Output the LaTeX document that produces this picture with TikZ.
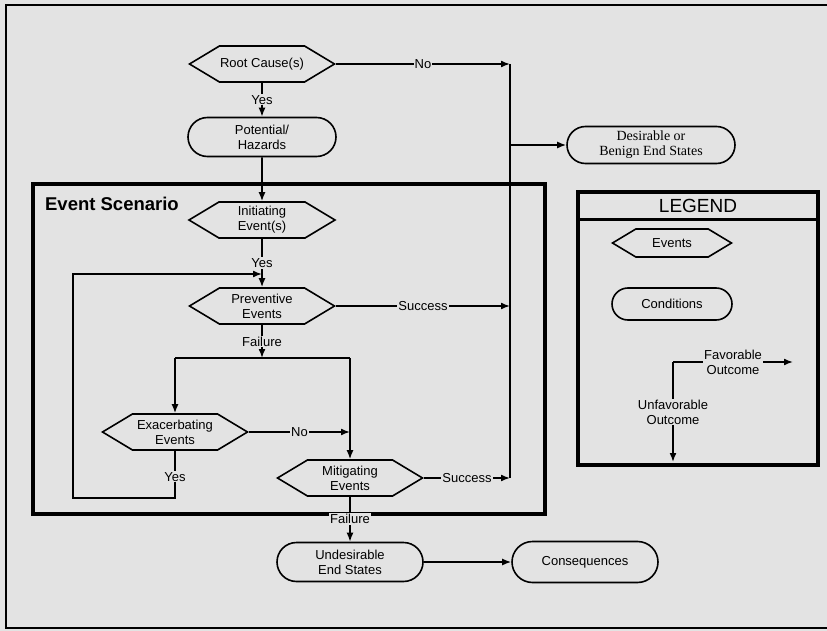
\documentclass[tikz,border=0pt]{standalone}
\usepackage{fontspec}
\setmainfont{Liberation Sans}
\newfontfamily\serifnode{Liberation Serif}
\usepackage{tikz}
\usetikzlibrary{arrows.meta}
\usetikzlibrary{positioning}
\usetikzlibrary{shapes.symbols}
\usetikzlibrary{shapes.misc}
\tikzset{>={Latex[length=9pt,width=7pt]}}
\definecolor{paper}{gray}{0.89}

\begin{document}
\begin{tikzpicture}[
		x=1pt, y=-1pt,
		font=\fontsize{13}{15}\selectfont,
		line width=1.6pt,
		event/.style = {
			signal, signal to=west and east,
			signal pointer angle=62,
			draw, align=center, inner sep=0pt,
			minimum width=145pt, minimum height=36pt
		},
		cond/.style = {
			rounded rectangle, draw,
			align=center, inner sep=0pt,
			minimum width=146pt, minimum height=39pt
		},
		lbl/.style = {
			fill=paper, inner sep=1pt
		}
	]
	\useasboundingbox[fill=paper] (0,0) rectangle (827,631);
	\draw[line width=2.5pt] (6,5) rectangle (840,628);

	% frames
	\draw[line width=3.5pt] (33,184) rectangle (545,514);
	\node[anchor=west, font=\bfseries\fontsize{18.5}{20}\selectfont] (title) at (41,204) {Event Scenario};
	\draw[line width=3.5pt] (578,192) rectangle (818,465);
	\draw[line width=3pt] (578,220) -- (818,220);
	\node[font=\fontsize{19}{21}\selectfont] (legtitle) at (698,206) {LEGEND};

	% main chain
	\node[event] (root) at (262,64) {Root Cause(s)};
	\node[cond, minimum width=148pt] (pot) at (262,137) {Potential/\\Hazards};
	\node[event, minimum width=146pt] (init) at (262,220) {Initiating\\Event(s)};
	\node[event] (prev) at (262,306) {Preventive\\Events};
	\node[event] (exac) at (175,432) {Exacerbating\\Events};
	\node[event] (mitig) at (350,478) {Mitigating\\Events};
	\node[cond] (undes) at (350,562) {Undesirable\\End States};
	\node[cond, minimum height=41pt] (conseq) at (585,562) {Consequences};
	\node[cond, minimum width=168pt, minimum height=37pt, font=\serifnode\fontsize{14}{15}\selectfont] (desir) at (651,145) {Desirable or\\Benign End States};

	% legend
	\node[event, minimum width=119pt, minimum height=28pt] (legev) at (672,243) {Events};
	\node[cond, minimum width=120pt, minimum height=32pt] (legcond) at (672,304) {Conditions};
	\coordinate (legc) at (673,362);
	\coordinate (legfav) at (793,362);
	\coordinate (legunf) at (673,462);

	% joins
	\coordinate (nojoin) at (510,64);
	\coordinate (prevjoin) at (510,306);
	\coordinate (mitjoin) at (510,478);
	\coordinate (loopin) at (262,274);
	\coordinate (failjoin) at (262,358);
	\coordinate (exacjoin) at (350,432);

	\draw[->] (root) -- node[lbl] {Yes} (pot);
	\draw[->] (root.east) -- node[lbl] {No} (nojoin);
	\draw (nojoin) -- (mitjoin);
	\draw[->] (nojoin |- desir.west) -- (desir.west);
	\draw[->] (pot) -- (init);
	\draw[->] (init) -- node[lbl] {Yes} (prev);
	\draw[->] (prev.east) -- node[lbl] {Success} (prevjoin);
	\draw[->] (prev) -- node[lbl] {Failure} (failjoin);
	\draw (exac.north |- failjoin) -- (mitig.north |- failjoin);
	\draw[->] (exac.north |- failjoin) -- (exac.north);
	\draw[->] (mitig.north |- failjoin) -- (mitig.north);
	\draw[->] (exac.east) -- node[lbl] {No} (exacjoin);
	\draw[->] (exac.south) -- node[lbl, pos=0.55] {Yes} (175,498) -| (73,274) -- (loopin);
	\draw[->] (mitig.east) -- node[lbl] {Success} (mitjoin);
	\draw[->] (mitig) -- node[lbl] {Failure} (undes);
	\draw[->] (undes) -- (conseq);

	\draw[->] (legc) -- node[lbl, align=center] {Favorable\\Outcome} (legfav);
	\draw[->] (legc) -- node[lbl, align=center] {Unfavorable\\Outcome} (legunf);
\end{tikzpicture}
\end{document}
